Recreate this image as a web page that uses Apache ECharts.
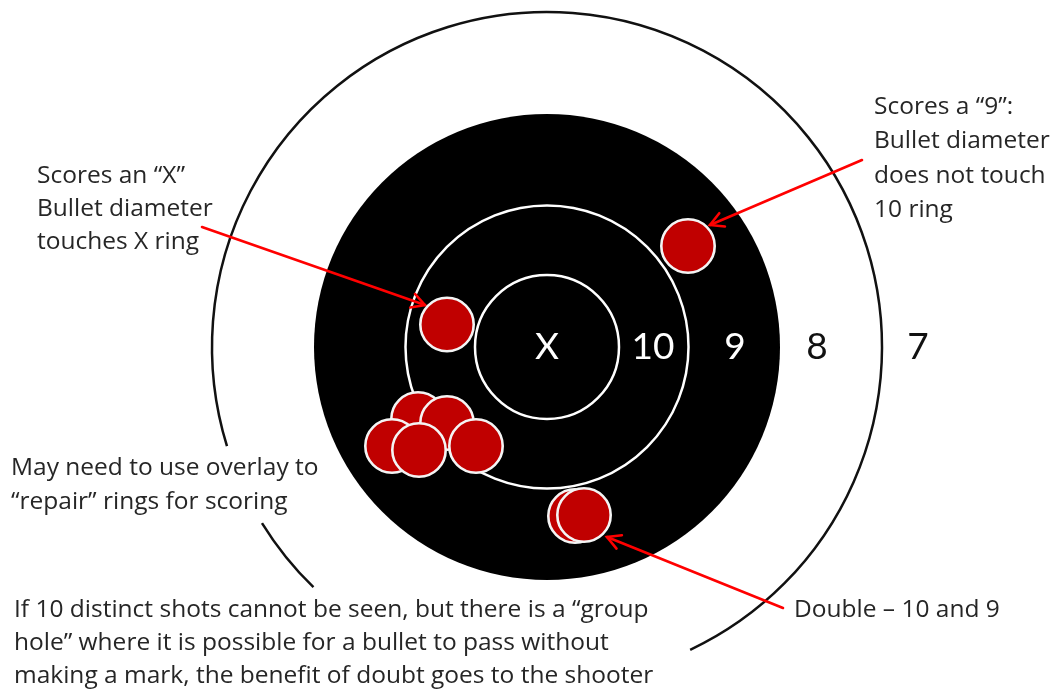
<!DOCTYPE html>
<html>
<head>
<meta charset="utf-8">
<script src="https://cdn.jsdelivr.net/npm/echarts@6/dist/echarts.min.js"></script>
<style>
html,body{margin:0;padding:0;background:#fff;}
#chart{width:1053px;height:691px;}
</style>
</head>
<body>
<div id="chart"></div>
<script>
// ---- Data (target units, origin at target centre, y up) ----
const ringNames = ['X ring', '10 ring', '9 ring', '8 ring'];
const ringRadii = [72, 141.5, 233, 335];
// visible pieces of the outer (8) ring line, in degrees counter-clockwise from +x
const outerArcStart = [-64.7, 211.7];
const outerArcEnd = [197.2, 225.8];

const scoreLabels = ['X', '10', '9', '8', '7'];
const scoreLabelX = [0, 106, 188, 270, 371];

const shotNames = ['9 shot', 'X shot', 'group 1', 'group 2', 'group 3', 'group 4', 'group 5', 'double (back)', 'double (front)'];
const shotX = [141, -100, -129, -100, -155, -128, -71, 28, 37];
const shotY = [101, 22.5, -72, -76, -99, -103, -99, -169, -168];
const bulletRadius = 28;

const arrowFromX = [-345, 315, 236];
const arrowFromY = [120, 187, -261];
const arrowToX = [-122, 163, 60];
const arrowToY = [42, 122, -190];

const noteTexts = [
  'Scores an \u201cX\u201d\nBullet diameter\ntouches X ring',
  'Scores a \u201c9\u201d:\nBullet diameter\ndoes not touch\n10 ring',
  'May need to use overlay to\n\u201crepair\u201d rings for scoring',
  'If 10 distinct shots cannot be seen, but there is a \u201cgroup\nhole\u201d where it is possible for a bullet to pass without\nmaking a mark, the benefit of doubt goes to the shooter',
  'Double \u2013 10 and 9'
];

// ---- Chart ----
const chart = echarts.init(document.getElementById('chart'), null, {renderer: 'canvas'});
const FONT = 'Lato, "Open Sans", sans-serif';
const NOTE_FONT = '"Open Sans", Lato, sans-serif';
const TEXT_COLOR = '#262626';

function ringsRender(params, api) {
  const c = api.coord([0, 0]);
  const px = r => api.size([r, 0])[0];
  const children = [
    {type: 'circle', shape: {cx: c[0], cy: c[1], r: px(ringRadii[2])}, style: {fill: '#000'}},
    {type: 'circle', shape: {cx: c[0], cy: c[1], r: px(ringRadii[1])}, style: {fill: null, stroke: '#fff', lineWidth: 2.5}},
    {type: 'circle', shape: {cx: c[0], cy: c[1], r: px(ringRadii[0])}, style: {fill: null, stroke: '#fff', lineWidth: 2.5}}
  ];
  for (let i = 0; i < outerArcStart.length; i++) {
    children.push({
      type: 'arc',
      shape: {
        cx: c[0], cy: c[1], r: px(ringRadii[3]),
        startAngle: -outerArcEnd[i] * Math.PI / 180,
        endAngle: -outerArcStart[i] * Math.PI / 180,
        clockwise: true
      },
      style: {fill: null, stroke: '#111', lineWidth: 2.5}
    });
  }
  return {type: 'group', children: children};
}

function shotRender(params, api) {
  const p = api.coord([api.value(0), api.value(1)]);
  const r = api.size([bulletRadius, 0])[0];
  return {
    type: 'circle',
    shape: {cx: p[0], cy: p[1], r: r - 1.3},
    style: {fill: '#C00000', stroke: '#f4f4f4', lineWidth: 2.6}
  };
}

function arrowRender(params, api) {
  const a = api.coord([api.value(0), api.value(1)]);
  const b = api.coord([api.value(2), api.value(3)]);
  const ang = Math.atan2(b[1] - a[1], b[0] - a[0]);
  const L = 15, spread = 0.5;
  const h1 = [b[0] - L * Math.cos(ang - spread), b[1] - L * Math.sin(ang - spread)];
  const h2 = [b[0] - L * Math.cos(ang + spread), b[1] - L * Math.sin(ang + spread)];
  const st = {stroke: '#FF0000', lineWidth: 2.6, fill: null, lineCap: 'round', lineJoin: 'miter'};
  return {
    type: 'group',
    children: [
      {type: 'line', shape: {x1: a[0], y1: a[1], x2: b[0], y2: b[1]}, style: st},
      {type: 'polyline', shape: {points: [h1, b, h2]}, style: st}
    ]
  };
}

function scoreRender(params, api) {
  const p = api.coord([api.value(0), 0]);
  const idx = params.dataIndex;
  return {
    type: 'text',
    style: {
      text: scoreLabels[idx],
      x: p[0], y: p[1],
      align: 'center', verticalAlign: 'middle',
      fill: idx < 3 ? '#fff' : '#111',
      fontSize: 37, fontFamily: FONT
    }
  };
}

function note(text, left, top, lh) {
  return {
    type: 'text', left: left, top: top, z: 100,
    style: {text: text, fill: TEXT_COLOR, fontSize: 24.5, fontFamily: NOTE_FONT, lineHeight: lh}
  };
}

const option = {
  animation: false,
  backgroundColor: '#fff',
  grid: {left: 0, right: 0, top: 0, bottom: 0},
  xAxis: {type: 'value', min: -547, max: 506, show: false},
  yAxis: {type: 'value', min: -344, max: 347, show: false},
  series: [
    {type: 'custom', name: 'rings', renderItem: ringsRender, data: [[0, 0]], silent: true, z: 1},
    {type: 'custom', name: 'arrows', renderItem: arrowRender, z: 2,
      data: arrowFromX.map((x, i) => [x, arrowFromY[i], arrowToX[i], arrowToY[i]])},
    {type: 'custom', name: 'shots', renderItem: shotRender, z: 3,
      data: shotX.map((x, i) => ({name: shotNames[i], value: [x, shotY[i]]}))},
    {type: 'custom', name: 'scores', renderItem: scoreRender, z: 4,
      data: scoreLabelX.map(x => [x, 0])}
  ],
  graphic: [
    note(noteTexts[0], 37, 160, 33),
    note(noteTexts[1], 874, 90, 34.3),
    note(noteTexts[2], 11, 451, 34),
    note(noteTexts[3], 14, 594, 33),
    note(noteTexts[4], 794, 594, 33)
  ]
};
chart.setOption(option);
</script>
</body>
</html>
